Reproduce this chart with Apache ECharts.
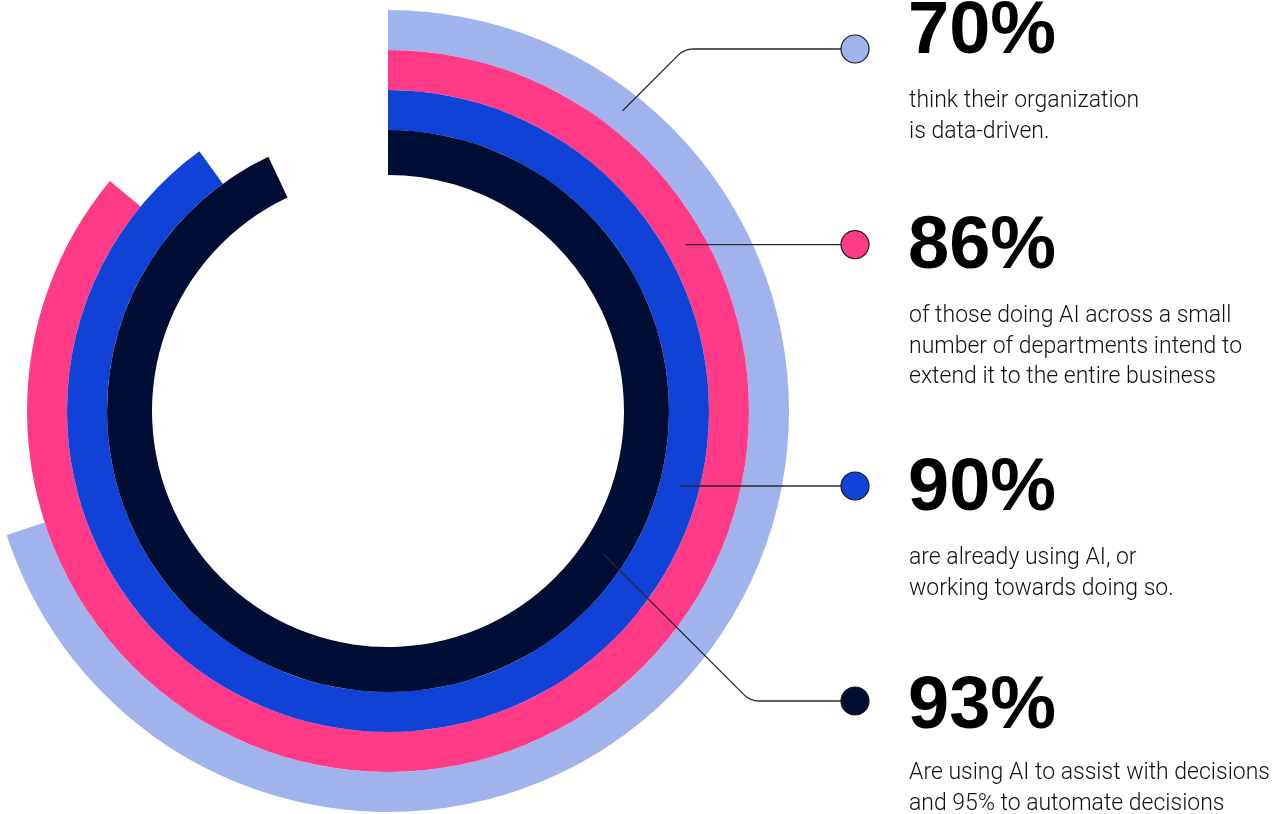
<!DOCTYPE html>
<html>
<head>
<meta charset="utf-8">
<script src="https://cdn.jsdelivr.net/npm/echarts@6/dist/echarts.min.js"></script>
<style>
  html, body { margin: 0; padding: 0; background: #fff; }
  #main { width: 1282px; height: 814px; }
</style>
</head>
<body>
<div id="main"></div>
<script>
// data
var values = [70, 86, 90, 93];
var bigLabels = ['70%', '86%', '90%', '93%'];
var notes = [
    'think their organization\nis data-driven.',
    'of those doing AI across a small\nnumber of departments intend to\nextend it to the entire business',
    'are already using AI, or\nworking towards doing so.',
    'Are using AI to assist with decisions\nand 95% to automate decisions'
];
var colors = ['#a1b3ec', '#ff3a87', '#1042d7', '#000e35'];

// layout
var cx = 388, cy = 411;
var rings = [[361, 401], [321, 361], [281, 321], [236, 281]];
var anchorAngles = [38, 60.8, 104.4, 123.6];   // where the leader line starts, deg from top
var dotX = 855, dotR = 14;
var dotY = [49, 244.6, 486, 701];
var textX = 910;
var bigBase = [57, 272, 514, 732];
var noteBase = [108, 323, 565, 780];

var chart = echarts.init(document.getElementById('main'));

var series = values.map(function (v, i) {
    return {
        type: 'pie',
        center: [cx, cy],
        radius: rings[i],
        startAngle: 90,
        clockwise: true,
        silent: true,
        label: { show: false },
        labelLine: { show: false },
        emphasis: { disabled: true },
        data: [
            { value: v, itemStyle: { color: colors[i] } },
            { value: 100 - v, itemStyle: { color: 'rgba(0,0,0,0)' } }
        ]
    };
});

// leader line from ring to dot, 45deg segment then rounded corner then flat
function leader(i) {
    var r = (rings[i][0] + rings[i][1]) / 2;
    var a = anchorAngles[i] * Math.PI / 180;
    var ax = cx + r * Math.sin(a), ay = cy - r * Math.cos(a);
    var dy = dotY[i];
    var end = dotX - dotR;
    if (Math.abs(ay - dy) < 2) {
        return [[ax, dy], [end, dy]];
    }
    var d = Math.abs(ay - dy);
    var s = dy < ay ? -1 : 1;
    var kx = ax + d, ky = dy;
    var k = 9;
    var p0 = [kx - k / Math.SQRT2, ky - s * k / Math.SQRT2];
    var p2 = [kx + k, ky];
    var pts = [[ax, ay]];
    for (var t = 0; t <= 1.0001; t += 0.1) {
        var u = 1 - t;
        pts.push([u * u * p0[0] + 2 * u * t * kx + t * t * p2[0],
                  u * u * p0[1] + 2 * u * t * ky + t * t * p2[1]]);
    }
    pts.push([end, ky]);
    return pts;
}

var graphics = [];
values.forEach(function (v, i) {
    graphics.push({
        type: 'polyline', z: 100,
        shape: { points: leader(i) },
        style: { stroke: '#2a2a2a', lineWidth: 1.3, fill: null }
    });
    graphics.push({
        type: 'circle', z: 101,
        shape: { cx: dotX, cy: dotY[i], r: dotR },
        style: { fill: colors[i], stroke: '#1a1a1a', lineWidth: 1.2 }
    });
    graphics.push({
        type: 'text', z: 101, x: textX - 2, y: bigBase[i] - 24,
        style: {
            text: bigLabels[i], fill: '#000',
            font: 'bold 74px "Liberation Sans", Arial, sans-serif',
            verticalAlign: 'middle', align: 'left'
        }
    });
    graphics.push({
        type: 'text', z: 101, x: textX - 1, y: noteBase[i] - 22,
        style: {
            text: notes[i], fill: '#111',
            font: '300 23px Roboto, "Noto Sans", sans-serif',
            lineHeight: 30.5,
            verticalAlign: 'top', align: 'left'
        }
    });
});

chart.setOption({
    animation: false,
    backgroundColor: '#fff',
    series: series,
    graphic: graphics
});
</script>
</body>
</html>
